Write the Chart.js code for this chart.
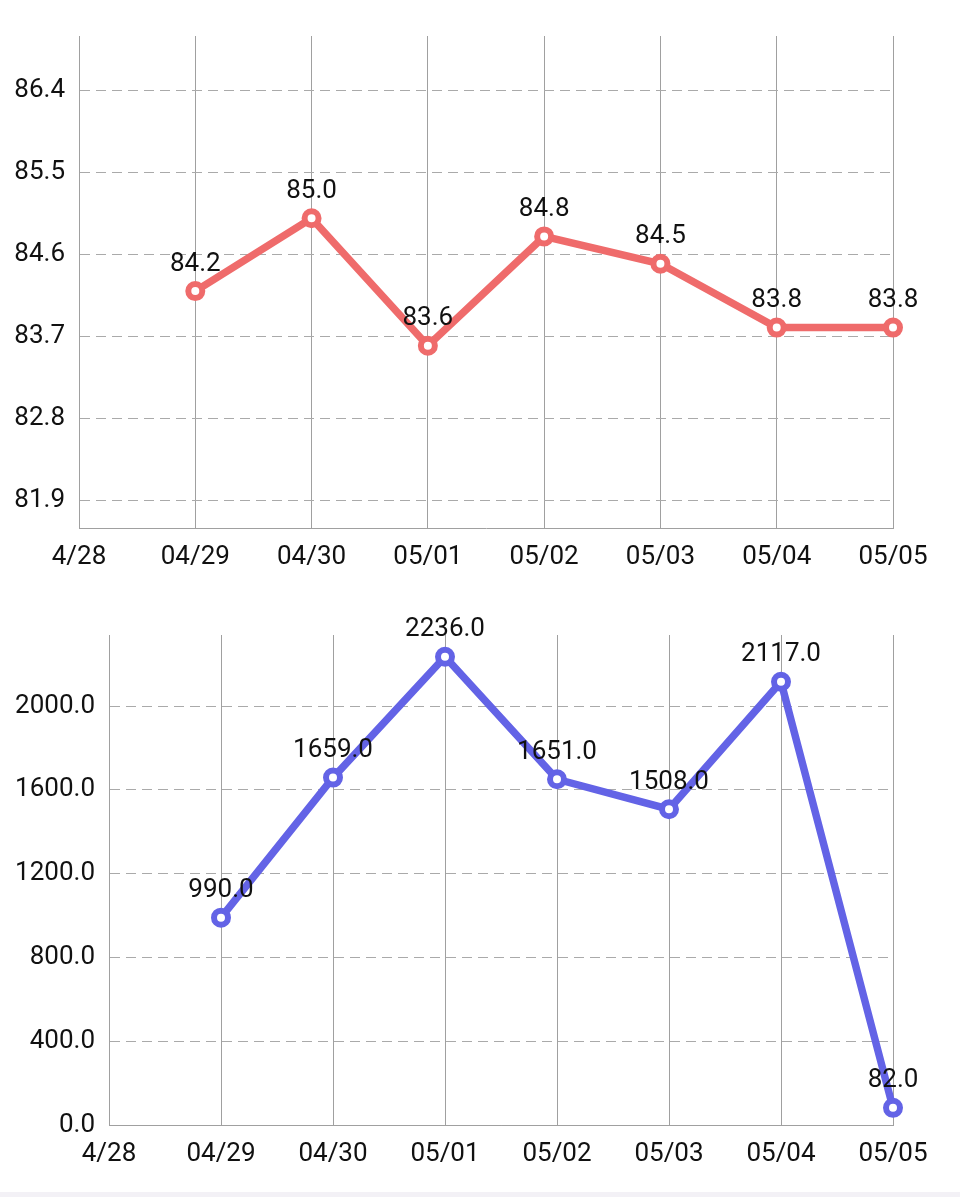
<!DOCTYPE html>
<html lang="en">
<head>
<meta charset="UTF-8">
<title>Charts</title>
<style>
  body { margin: 0; background: #fff; width: 960px; height: 1197px; position: relative; overflow: hidden; }
  canvas { position: absolute; left: 0; }
  #weightChart { top: 0; }
  #kcalChart { top: 590px; }
  .bottomBand { position: absolute; left: 0; top: 1192px; width: 960px; height: 5px; background: #f3f1f6; }
</style>
</head>
<body>

<canvas id="weightChart" width="960" height="590"></canvas>
<canvas id="kcalChart" width="960" height="600"></canvas>
<div class="bottomBand"></div>

<script src="https://cdn.jsdelivr.net/npm/chart.js"></script>
<script>
// data
var dias = ["4/28", "04/29", "04/30", "05/01", "05/02", "05/03", "05/04", "05/05"]
var pesos = [null, 84.2, 85.0, 83.6, 84.8, 84.5, 83.8, 83.8]
var calorias = [null, 990, 1659, 2236, 1651, 1508, 2117, 82]
var ticksPeso = [81.9, 82.8, 83.7, 84.6, 85.5, 86.4]
var ticksCalorias = [0, 400, 800, 1200, 1600, 2000]

Chart.defaults.font.family = "Roboto, 'Noto Sans', sans-serif"
Chart.defaults.font.size = 26
Chart.defaults.color = "#111"

// draws the value above every point
var rotulosPlugin = {
  id: "rotulos",
  afterDatasetsDraw(chart) {
    var ctx = chart.ctx
    var meta = chart.getDatasetMeta(0)
    var dados = chart.data.datasets[0].data
    ctx.save()
    ctx.font = "26px Roboto, 'Noto Sans', sans-serif"
    ctx.fillStyle = "#111"
    ctx.textAlign = "center"
    ctx.textBaseline = "middle"
    for (var i = 0; i < dados.length; i++) {
      if (dados[i] == null) continue
      var p = meta.data[i]
      ctx.fillText(Number(dados[i]).toFixed(1), p.x, p.y - 27)
    }
    ctx.restore()
  }
}

function montarGrafico(id, valores, cor, min, max, ticks, yLargura, topo, xAltura) {
  return new Chart(document.getElementById(id), {
    type: "line",
    data: {
      labels: dias,
      datasets: [{
        data: valores,
        borderColor: cor,
        borderWidth: 7.5,
        pointRadius: 7,
        pointBorderWidth: 6,
        pointBackgroundColor: "#fff",
        pointBorderColor: cor,
        tension: 0,
        clip: false
      }]
    },
    options: {
      responsive: false,
      animation: false,
      layout: { padding: { top: topo, right: 67, left: 0, bottom: 0 } },
      plugins: { legend: { display: false }, tooltip: { enabled: false } },
      scales: {
        x: {
          grid: { color: "#a0a0a0", lineWidth: 1, drawTicks: false },
          border: { color: "#a0a0a0" },
          ticks: { padding: 14, autoSkip: false, maxRotation: 0 },
          afterFit: function (s) { s.height = xAltura }
        },
        y: {
          min: min,
          max: max,
          grid: { color: "#aaa", lineWidth: 1, drawTicks: false },
          border: { color: "#a0a0a0", dash: [10, 6] },
          ticks: {
            padding: 14,
            callback: function (v) { return Number(v).toFixed(1) }
          },
          afterBuildTicks: function (s) {
            s.ticks = ticks.map(function (v) { return { value: v } })
          },
          afterFit: function (s) { s.width = yLargura }
        }
      }
    },
    plugins: [rotulosPlugin]
  })
}

var graficoPeso = montarGrafico("weightChart", pesos, "#ef6b6b", 81.6, 87.0, ticksPeso, 79, 36, 62)
var graficoCalorias = montarGrafico("kcalChart", calorias, "#6363e6", 0, 2340, ticksCalorias, 109, 45, 65)
</script>
</body>
</html>
